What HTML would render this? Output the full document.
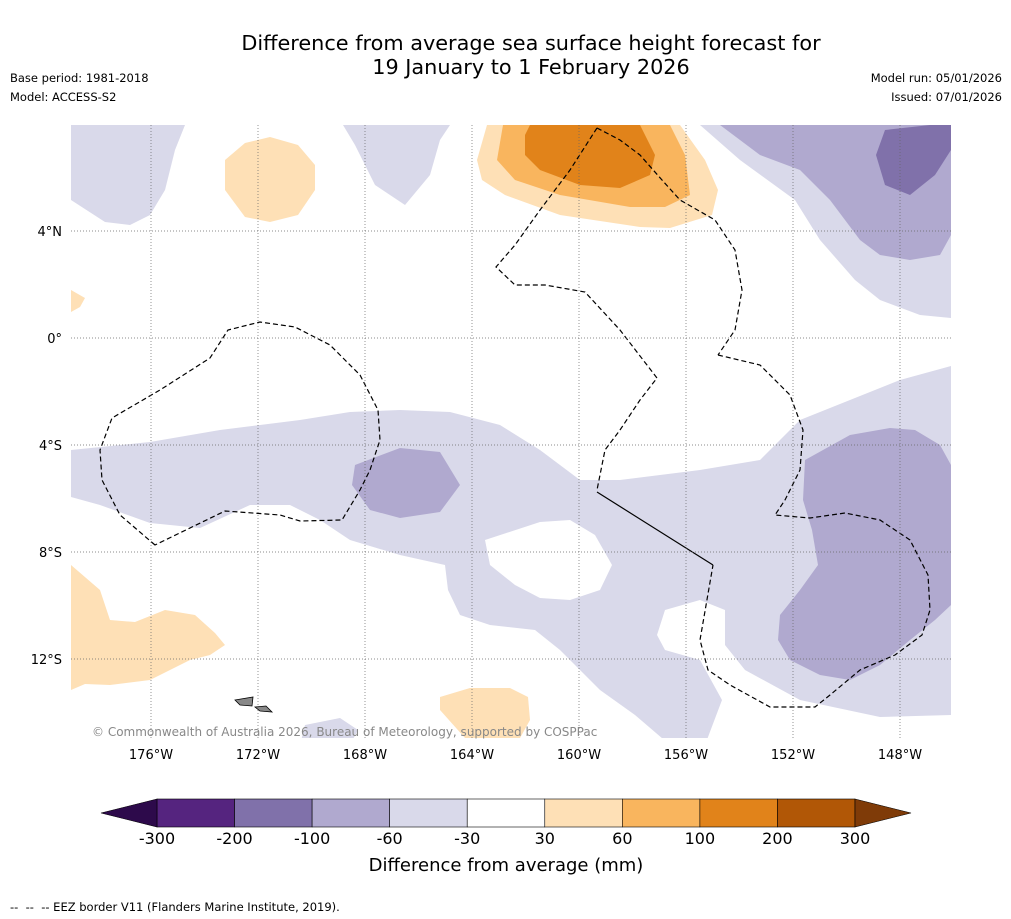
<!DOCTYPE html>
<html><head><meta charset="utf-8">
<style>
body{margin:0;background:#fff;font-family:"DejaVu Sans","Liberation Sans",sans-serif;}
#wrap{position:relative;width:1011px;height:919px;overflow:hidden;background:#fff;}
.t{position:absolute;color:#000;white-space:nowrap;}
</style></head>
<body>
<div id="wrap">
<div class="t" style="left:0;width:1062px;top:31px;text-align:center;font-size:20.8px;line-height:24px;">Difference from average sea surface height forecast for<br>19 January to 1 February 2026</div>
<div class="t" style="left:10px;top:69px;font-size:11.5px;line-height:19px;">Base period: 1981-2018<br>Model: ACCESS-S2</div>
<div class="t" style="right:9px;top:69px;font-size:11.5px;line-height:19px;text-align:right;">Model run: 05/01/2026<br>Issued: 07/01/2026</div>
<svg id="svg" width="1011" height="919" style="position:absolute;left:0;top:0"></svg>
<div class="t" style="left:10px;top:900px;font-size:11.5px;">-- &nbsp;-- &nbsp;-- EEZ border V11 (Flanders Marine Institute, 2019).</div>
</div>
<script>
const levels=[-300,-200,-100,-60,-30,30,60,100,200,300];
const colors=["#55247f","#8071aa","#b0a9cf","#d9d9ea","#ffffff","#fee0b6","#f9b55e","#e1831a","#b15706"];
const lonTicks=[176,172,168,164,160,156,152,148];
const latTicks=[4,0,-4,-8,-12];
const NS="http://www.w3.org/2000/svg";
const svg=document.getElementById('svg');
function el(t,a,p){const e=document.createElementNS(NS,t);for(const k in a)e.setAttribute(k,a[k]);(p||svg).appendChild(e);return e;}
const X=w=>151+(176-w)*26.75, Y=l=>338-l*26.75;
const g=el('g',{'clip-path':'url(#cp)'});


const d=el('defs',{});el('clipPath',{id:'cp'},d);
el('rect',{x:71,y:125,width:880,height:613},d.firstChild);
function poly(pts,fill,name){const p=el('polygon',{points:pts,fill:fill},g);

}
const L1=colors[3],L2=colors[2],L3=colors[1],O1=colors[5],O2=colors[6],O3=colors[7];
poly("71,125 185,125 175,150 165,190 150,215 130,225 105,222 71,200",L1,'contour-nw');
poly("343,125 450,125 440,140 430,175 405,205 375,185 355,145",L1,'contour-n');
poly("700,125 951,125 951,318 920,315 880,300 855,280 820,240 795,200 740,160",L1,'contour-ne');
poly("720,125 951,125 951,235 940,255 910,260 880,255 860,240 830,200 800,170 760,155",L2,'contour-ne-2');
poly("885,130 930,125 951,125 951,150 935,175 910,195 885,185 876,155",L3,'contour-ne-3');
poly("71,450 150,442 220,430 300,420 350,412 400,410 450,412 500,425 540,450 580,480 620,480 700,470 760,460 800,420 850,400 900,380 951,366 951,715 880,717 800,700 745,670 725,645 725,610 700,600 665,610 657,635 665,650 700,660 722,700 705,745 670,745 635,715 600,690 560,650 535,630 490,625 460,615 448,590 445,565 400,555 350,540 320,520 290,505 250,505 200,528 150,523 100,505 71,497",L1,'contour-band');
poly("485,540 540,522 570,520 595,535 612,565 600,590 570,600 540,598 515,585 490,565","#fff",'contour-hole');
poly("355,465 400,448 440,452 460,485 440,512 400,518 370,510 352,485",L2,'contour-mid');
poly("805,460 850,435 890,428 915,430 940,445 951,465 951,605 935,620 910,640 880,665 850,680 820,675 790,660 778,640 780,615 800,590 818,565 812,530 803,500",L2,'contour-east');
poly("305,725 340,718 358,730 350,745 300,745",L1,'contour-s');
poly("487,125 680,125 705,160 718,190 712,215 670,228 640,227 560,215 505,195 482,180 477,160",O1,'contour-orange-1');
poly("503,125 670,125 685,155 690,195 665,207 630,207 560,195 515,180 497,160",O2,'contour-orange-2');
poly("530,125 640,125 655,155 650,175 620,188 580,185 540,170 525,155 525,135",O3,'contour-orange-3');
poly("225,160 245,143 270,137 298,145 315,165 315,190 298,215 270,222 245,217 225,190",O1,'contour-orange-blob');
poly("71,290 85,298 80,307 71,312",O1,'contour-orange-w');
poly("71,565 100,590 110,620 135,622 165,610 195,615 215,633 225,645 210,655 190,660 150,680 110,685 85,684 71,690",O1,'contour-orange-sw');
poly("440,697 470,688 510,688 528,697 530,720 520,738 465,738 440,710",O1,'contour-orange-s');
lonTicks.forEach(w=>{const l=el('line',{x1:X(w),x2:X(w),y1:125,y2:738,stroke:'#666','stroke-width':0.7,'stroke-dasharray':'1,2'});


const t=el('text',{x:X(w),y:759,'font-size':13,'text-anchor':'middle','font-family':'DejaVu Sans,Liberation Sans,sans-serif'});t.textContent=w+'°W';

});
latTicks.forEach(v=>{const l=el('line',{x1:71,x2:951,y1:Y(v),y2:Y(v),stroke:'#666','stroke-width':0.7,'stroke-dasharray':'1,2'});


const t=el('text',{x:62,y:Y(v)+5,'font-size':13,'text-anchor':'end','font-family':'DejaVu Sans,Liberation Sans,sans-serif'});t.textContent=v==0?'0°':Math.abs(v)+'°'+(v>0?'N':'S');

});
function dash(pts,name,solid){const p=el('polyline',{points:pts,fill:'none',stroke:'#000','stroke-width':1.2,'stroke-dasharray':solid?'none':'5,3'},g);

}
dash("155,545 120,515 102,480 100,450 112,418 160,390 210,358 228,330 260,322 295,327 330,345 360,375 378,410 380,440 370,470 360,490 342,520 300,521 280,515 225,511 155,545",'eez-tokelau');
dash("597,128 620,140 640,155 662,180 680,200 715,220 735,250 742,290 735,330 718,355",'eez-line-ne');
dash("718,355 760,365 790,395 803,430 800,470 785,500 775,515 810,518 845,513 880,520 910,540 928,575 930,610 922,635 895,655 860,670 830,695 815,707 770,707 730,685 708,670 700,640 713,565",'eez-line-e');
dash("597,128 570,170 540,210 515,245 496,267 515,285 545,285 585,292 620,330 657,378 640,400 620,430 605,450 597,490",'eez-line-w');
dash("597,492 713,565",'eez-solid',true);
[[235,700,253,697,252,706,240,705],[255,707,266,706,272,712,260,711]].forEach(a=>{const p=el('polygon',{points:a.join(' '),fill:'#888',stroke:'#000','stroke-width':0.8},g);

});
const ct=el('text',{x:92,y:736,'font-size':12,fill:'#888','font-family':'DejaVu Sans,Liberation Sans,sans-serif'});ct.textContent='© Commonwealth of Australia 2026, Bureau of Meteorology, supported by COSPPac';


const cx=v=>157+levels.indexOf(v)*((855-157)/9);
for(let i=0;i<colors.length;i++){const r=el('rect',{x:cx(levels[i]),y:799,width:cx(levels[i+1])-cx(levels[i]),height:28,fill:colors[i],stroke:'#000','stroke-width':0.6});

}
const lt=el('polygon',{points:"157,799 101,813 157,827",fill:'#2d0a4b',stroke:'#000','stroke-width':0.6});


const rt=el('polygon',{points:"855,799 911,813 855,827",fill:'#7f3b08',stroke:'#000','stroke-width':0.6});


levels.forEach(v=>{const t=el('text',{x:cx(v),y:844,'font-size':16,'text-anchor':'middle','font-family':'DejaVu Sans,Liberation Sans,sans-serif'});t.textContent=v;

});
const at=el('text',{x:506,y:871,'font-size':18,'text-anchor':'middle','font-family':'DejaVu Sans,Liberation Sans,sans-serif'});at.textContent='Difference from average (mm)';


</script>
</body></html>
